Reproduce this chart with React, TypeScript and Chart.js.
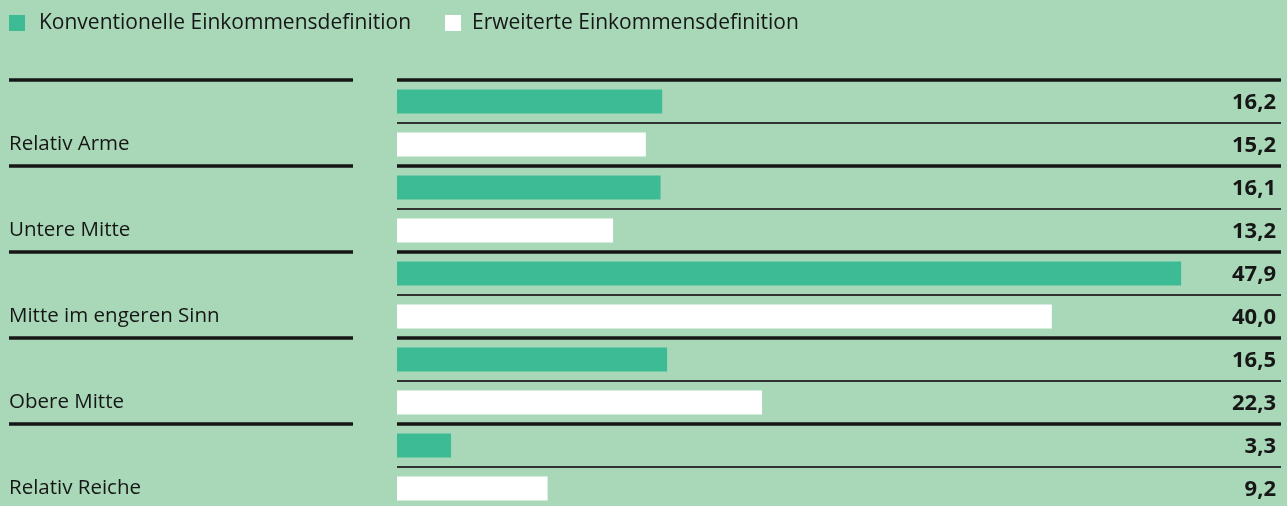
import React, { useEffect, useRef } from "react";
import { Chart, registerables } from "chart.js";

Chart.register(...registerables);

const categories = ["Relativ Arme", "Untere Mitte", "Mitte im engeren Sinn", "Obere Mitte", "Relativ Reiche"];
const konventionell = [16.2, 16.1, 47.9, 16.5, 3.3];
const erweitert = [15.2, 13.2, 40.0, 22.3, 9.2];
const seriesNames = ["Konventionelle Einkommensdefinition", "Erweiterte Einkommensdefinition"];

const BG = "#a8d8b8";
const GREEN = "#3dbb94";
const WHITE = "#ffffff";
const INK = "#161616";
const FONT = "'Open Sans', 'Noto Sans', sans-serif";

const fmt = (v: number) => v.toFixed(1).replace(".", ",");

const decorPlugin = {
  id: "decor",
  beforeDraw(chart: any) {
    const { ctx, width, height } = chart;
    ctx.save();
    ctx.fillStyle = BG;
    ctx.fillRect(0, 0, width, height);
    ctx.restore();
  },
  afterDatasetsDraw(chart: any) {
    const { ctx, chartArea } = chart;
    const y = chart.scales.y;
    const n = categories.length;
    ctx.save();
    // legend
    ctx.font = `21px ${FONT}`;
    ctx.textBaseline = "middle";
    const legendItems = [
      { color: GREEN, text: seriesNames[0], boxX: 9, textX: 39 },
      { color: WHITE, text: seriesNames[1], boxX: 445, textX: 472 },
    ];
    legendItems.forEach((it) => {
      ctx.fillStyle = it.color;
      ctx.fillRect(it.boxX, 15, 16, 16);
      ctx.fillStyle = INK;
      ctx.textAlign = "left";
      ctx.fillText(it.text, it.textX, 23);
    });

    const half = (y.getPixelForValue(1) - y.getPixelForValue(0)) / 2;
    // thick separators
    ctx.strokeStyle = INK;
    ctx.lineWidth = 3.5;
    for (let i = 0; i <= n; i++) {
      const yy = y.getPixelForValue(i) - half;
      ctx.beginPath();
      ctx.moveTo(9, yy);
      ctx.lineTo(353, yy);
      ctx.moveTo(chartArea.left, yy);
      ctx.lineTo(chartArea.right, yy);
      ctx.stroke();
    }
    // thin separators
    ctx.strokeStyle = "#333333";
    ctx.lineWidth = 2;
    for (let i = 0; i < n; i++) {
      const yy = y.getPixelForValue(i);
      ctx.beginPath();
      ctx.moveTo(chartArea.left, yy);
      ctx.lineTo(chartArea.right, yy);
      ctx.stroke();
    }
    // value labels
    ctx.font = `bold 22px ${FONT}`;
    ctx.fillStyle = INK;
    ctx.textAlign = "right";
    ctx.textBaseline = "middle";
    chart.data.datasets.forEach((ds: any, di: number) => {
      const meta = chart.getDatasetMeta(di);
      meta.data.forEach((bar: any, i: number) => {
        ctx.fillText(fmt(ds.data[i]), chartArea.right - 5, bar.y + 1);
      });
    });
    ctx.restore();
  },
};

export default function App() {
  const ref = useRef<HTMLCanvasElement>(null);
  useEffect(() => {
    if (!ref.current) return;
    const chart = new Chart(ref.current, {
      type: "bar",
      data: {
        labels: categories,
        datasets: [
          { label: seriesNames[0], data: konventionell, backgroundColor: GREEN, borderWidth: 0 },
          { label: seriesNames[1], data: erweitert, backgroundColor: WHITE, borderWidth: 0 },
        ],
      },
      options: {
        indexAxis: "y",
        responsive: false,
        animation: false,
        events: [],
        layout: { padding: { top: 80, left: 9, right: 6, bottom: 2 } },
        datasets: { bar: { categoryPercentage: 1, barPercentage: 0.56 } },
        scales: {
          x: { display: false, min: 0, max: 54 },
          y: {
            display: true,
            grid: { display: false },
            border: { display: false },
            ticks: {
              crossAlign: "far",
              labelOffset: 21.5,
              color: INK,
              font: { family: FONT, size: 20.5 },
            },
            afterFit(scale: any) {
              scale.width = 388;
              scale.paddingTop = 0;
              scale.paddingBottom = 0;
            },
          },
        },
        plugins: {
          legend: { display: false },
          tooltip: { enabled: false },
        },
      } as any,
      plugins: [decorPlugin],
    });
    return () => chart.destroy();
  }, []);
  return (
    <div style={{ position: "fixed", left: 0, top: 0, width: 1287, height: 506, overflow: "hidden", background: BG }}>
      <canvas ref={ref} width={1287} height={512} style={{ display: "block" }} />
    </div>
  );
}
